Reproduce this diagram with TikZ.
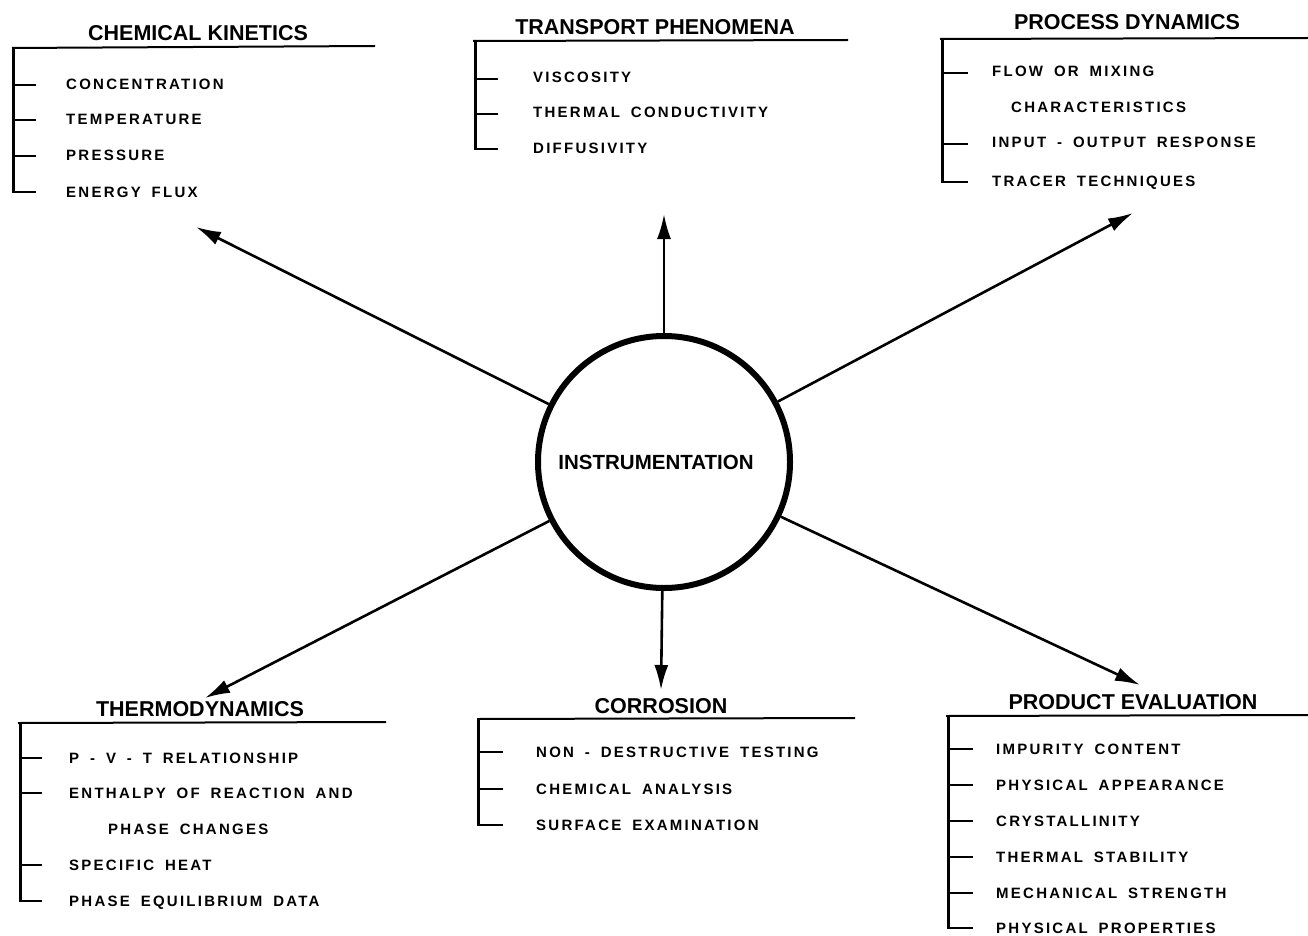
\documentclass[tikz,border=0pt]{standalone}
\usepackage{fontspec}
\setmainfont{Liberation Sans}
\newfontfamily\itemfont[LetterSpace=15,WordSpace=1.7]{Liberation Sans}
\newfontfamily\ttlfont{Liberation Sans}
\usetikzlibrary{arrows.meta}
\tikzset{
  itm/.style={anchor=base west, inner sep=0pt, font=\itemfont\bfseries\fontsize{15}{15}\selectfont},
  ttl/.style={anchor=base, inner sep=0pt, font=\ttlfont\bfseries\fontsize{21.5}{21.5}\selectfont},
  hline/.style={line width=2pt},
  vline/.style={line width=3pt},
  tickline/.style={line width=2.6pt},
  arr/.style={line width=2.6pt, -{Latex[length=25pt,width=14pt]}},
  hub/.style={circle, draw, line width=6pt, minimum size=252pt, inner sep=0pt}
}
\begin{document}
\begin{tikzpicture}[x=1pt,y=-1pt]
\useasboundingbox[fill=white] (0,0) rectangle (1308,936);

% hub
\node[hub] (inst) at (664,462) {};
\node[ttl, anchor=center, font=\ttlfont\bfseries\fontsize{20.5}{20.5}\selectfont] (instText) at (656,462) {INSTRUMENTATION};

% arrow tips
\coordinate (ckTip) at (196,227);
\coordinate (tpTip) at (664,214);
\coordinate (pdTip) at (1133,213);
\coordinate (tdTip) at (205,698);
\coordinate (coTip) at (661,690);
\coordinate (peTip) at (1140,685);

\draw[arr] (inst) -- (ckTip);
\draw[arr] (inst) -- (tpTip);
\draw[arr] (inst) -- (pdTip);
\draw[arr] (inst) -- (tdTip);
\draw[arr] (inst) -- (coTip);
\draw[arr] (inst) -- (peTip);

% CHEMICAL KINETICS
\node[ttl] (ck) at (198,41) {CHEMICAL KINETICS};
\draw[hline] (12,48) -- (375,46);
\draw[vline] (13,47) -- (13,193);
\foreach \y in {85,120,156,192} \draw[tickline] (13,\y) -- (36,\y);
\node[itm] (ck1) at (66,90) {CONCENTRATION};
\node[itm] (ck2) at (66,125) {TEMPERATURE};
\node[itm] (ck3) at (66,161) {PRESSURE};
\node[itm] (ck4) at (66,197) {ENERGY FLUX};

% TRANSPORT PHENOMENA
\node[ttl] (tp) at (655,35) {TRANSPORT PHENOMENA};
\draw[hline] (473,41) -- (848,40);
\draw[vline] (475,40) -- (475,150);
\foreach \y in {79,114,149} \draw[tickline] (475,\y) -- (498,\y);
\node[itm] (tp1) at (533,83) {VISCOSITY};
\node[itm] (tp2) at (533,118) {THERMAL CONDUCTIVITY};
\node[itm] (tp3) at (533,154) {DIFFUSIVITY};

% PROCESS DYNAMICS
\node[ttl] (pd) at (1127,30) {PROCESS DYNAMICS};
\draw[hline] (940,39) -- (1308,38);
\draw[vline] (942,38) -- (942,183);
\foreach \y in {73,144,182} \draw[tickline] (942,\y) -- (968,\y);
\node[itm] (pd1) at (992,77) {FLOW OR MIXING};
\node[itm] (pd2) at (1011,113) {CHARACTERISTICS};
\node[itm] (pd3) at (992,148) {INPUT - OUTPUT RESPONSE};
\node[itm] (pd4) at (992,186) {TRACER TECHNIQUES};

% THERMODYNAMICS
\node[ttl] (td) at (200,716) {THERMODYNAMICS};
\draw[hline] (18,723) -- (386,722);
\draw[vline] (20,722) -- (20,902);
\foreach \y in {758,793,865,901} \draw[tickline] (20,\y) -- (42,\y);
\node[itm] (td1) at (69,763) {P - V - T RELATIONSHIP};
\node[itm] (td2) at (69,798) {ENTHALPY OF REACTION AND};
\node[itm] (td3) at (108,834) {PHASE CHANGES};
\node[itm] (td4) at (69,870) {SPECIFIC HEAT};
\node[itm] (td5) at (69,906) {PHASE EQUILIBRIUM DATA};

% CORROSION
\node[ttl] (co) at (661,713) {CORROSION};
\draw[hline] (477,719) -- (855,718);
\draw[vline] (478,718) -- (478,826);
\foreach \y in {752,789,825} \draw[tickline] (478,\y) -- (503,\y);
\node[itm] (co1) at (536,757) {NON - DESTRUCTIVE TESTING};
\node[itm] (co2) at (536,794) {CHEMICAL ANALYSIS};
\node[itm] (co3) at (536,830) {SURFACE EXAMINATION};

% PRODUCT EVALUATION
\node[ttl] (pe) at (1133,709) {PRODUCT EVALUATION};
\draw[hline] (946,716) -- (1308,715);
\draw[vline] (948,715) -- (948,929);
\foreach \y in {749,785,821,857,893,928} \draw[tickline] (948,\y) -- (973,\y);
\node[itm] (pe1) at (996,754) {IMPURITY CONTENT};
\node[itm] (pe2) at (996,790) {PHYSICAL APPEARANCE};
\node[itm] (pe3) at (996,826) {CRYSTALLINITY};
\node[itm] (pe4) at (996,862) {THERMAL STABILITY};
\node[itm] (pe5) at (996,898) {MECHANICAL STRENGTH};
\node[itm] (pe6) at (996,933) {PHYSICAL PROPERTIES};
\end{tikzpicture}
\end{document}
